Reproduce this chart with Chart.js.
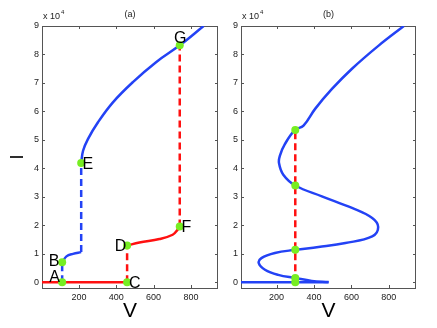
<!DOCTYPE html>
<html>
<head>
<meta charset="utf-8">
<script src="https://cdn.jsdelivr.net/npm/chart.js@4.4.1/dist/chart.umd.min.js"></script>
<style>
  html, body { margin: 0; padding: 0; background: #fff; }
  #chartA, #chartB { position: absolute; top: 0; }
  #chartA { left: 0; }
  #chartB { left: 222px; }
</style>
</head>
<body>
<canvas id="chartA" width="222" height="328"></canvas>
<canvas id="chartB" width="215" height="328"></canvas>
<script>
const xTicks = [200, 400, 600, 800];
const yTicks = [0, 10000, 20000, 30000, 40000, 50000, 60000, 70000, 80000, 90000];

// (a) hysteresis path
const aOffV = [2, 458];
const aOffI = [0, 0];
const aLowV = [110, 133, 168, 212];
const aLowI = [7000, 9100, 10000, 10600];
const aHighV = [212, 222, 248, 302, 382, 489, 613, 740, 868];
const aHighI = [41900, 46200, 50300, 56200, 63200, 70300, 77300, 83200, 90000];
const aMidV = [458, 524, 631, 702, 729, 740];
const aMidI = [12900, 14000, 15200, 16700, 18500, 19600];
const aBlueJumpV = [110, 212];
const aBlueJumpFrom = [0, 10600];
const aBlueJumpTo = [7000, 41900];
const aRedJumpV = [458, 740];
const aRedJumpFrom = [0, 19600];
const aRedJumpTo = [12900, 83200];
const aPointNames = ['A', 'B', 'C', 'D', 'E', 'F', 'G'];
const aPointV = [110, 110, 458, 458, 212, 740, 740];
const aPointI = [0, 7000, 0, 12900, 41900, 19600, 83200];

// (b) full S-shaped curve
const bCurveV = [880, 747, 603, 496, 406, 344, 299, 245, 218, 213, 236, 300, 442, 603, 711, 743, 711, 568, 424, 300, 191, 119, 105, 138, 209, 300, 388, 478];
const bCurveI = [90000, 83200, 75000, 67900, 60900, 55000, 53500, 48600, 44500, 41900, 37800, 34000, 30200, 26100, 22600, 19400, 16100, 13800, 12400, 11400, 10300, 8500, 6700, 4400, 2600, 1500, 500, 100];
const bFlatV = [10, 478];
const bFlatI = [0, 0];
const bMarkV = 300;
const bMarkI = [0, 1500, 11400, 34000, 53500];

const BLUE = '#2342f5';
const RED = '#ff1010';
const GREEN = '#77ee22';
const FONT = 'Liberation Sans, Arial, Helvetica, sans-serif';

function pts(V, I) {
  return V.map((v, k) => ({x: v, y: I[k]}));
}
function solid(color, V, I) {
  return {data: pts(V, I), showLine: true, borderColor: color, borderWidth: 2.5,
    pointRadius: 0, tension: 0.4, fill: false, order: 2};
}
function dashed(color, v, from, to) {
  return {data: [{x: v, y: from}, {x: v, y: to}], showLine: true, borderColor: color,
    borderWidth: 2.5, borderDash: [7, 4], pointRadius: 0, fill: false, order: 1};
}
function marks(V, I) {
  return {data: pts(V, I), showLine: false, pointRadius: 4, pointBackgroundColor: GREEN,
    pointBorderWidth: 0, order: 0};
}

// box, inward ticks, panel title, exponent and point letters
const decor = {
  id: 'decor',
  beforeDatasetsDraw(chart, args, opts) {
    const {ctx, chartArea: a, scales: {x, y}} = chart;
    ctx.save();
    ctx.strokeStyle = '#555';
    ctx.lineWidth = 1;
    ctx.beginPath();
    xTicks.forEach(v => {
      const px = Math.round(x.getPixelForValue(v)) + 0.5;
      ctx.moveTo(px, a.bottom); ctx.lineTo(px, a.bottom - 3);
      ctx.moveTo(px, a.top); ctx.lineTo(px, a.top + 3);
    });
    yTicks.forEach(v => {
      const py = Math.round(y.getPixelForValue(v)) + 0.5;
      ctx.moveTo(a.left, py); ctx.lineTo(a.left + 3, py);
      ctx.moveTo(a.right, py); ctx.lineTo(a.right - 3, py);
    });
    ctx.stroke();
    ctx.strokeRect(a.left + 0.5, a.top + 0.5, a.right - a.left - 1, a.bottom - a.top);
    ctx.fillStyle = '#222';
    ctx.font = '9px ' + FONT;
    ctx.textAlign = 'center';
    ctx.textBaseline = 'middle';
    ctx.fillText(opts.title, (a.left + a.right) / 2, 15);
    ctx.textAlign = 'left';
    ctx.fillText('x 10', a.left + 1, 17);
    const w = ctx.measureText('x 10').width;
    ctx.font = '6px ' + FONT;
    ctx.fillText('4', a.left + 2 + w, 12.5);
    ctx.restore();
  },
  afterDatasetsDraw(chart, args, opts) {
    if (!opts.names) return;
    const {ctx, scales: {x, y}} = chart;
    ctx.save();
    ctx.fillStyle = '#000';
    ctx.font = '16px ' + FONT;
    ctx.textAlign = 'center';
    ctx.textBaseline = 'alphabetic';
    opts.names.forEach((n, k) => {
      const px = x.getPixelForValue(opts.v[k]) + opts.dx[k];
      const py = y.getPixelForValue(opts.i[k]) + opts.dy[k];
      ctx.fillText(n, px, py + 5.7);
    });
    ctx.restore();
  }
};

function makeChart(id, xMin, axisWidth, padRight, yTitle, datasets, decorOpts) {
  return new Chart(document.getElementById(id), {
    type: 'scatter',
    data: {datasets: datasets},
    options: {
      responsive: false,
      animation: false,
      layout: {padding: {top: 26, right: padRight, bottom: 0, left: 0}},
      plugins: {legend: {display: false}, tooltip: {enabled: false}, decor: decorOpts},
      scales: {
        x: {
          type: 'linear', min: xMin, max: 945,
          grid: {display: false, drawTicks: false}, border: {display: false},
          afterBuildTicks: s => { s.ticks = xTicks.map(v => ({value: v})); },
          afterFit: s => { s.height = 40; },
          ticks: {padding: 4, color: '#222', maxRotation: 0, font: {family: FONT, size: 9}},
          title: {display: true, text: 'V', color: '#000', font: {family: FONT, size: 21},
            padding: {top: 0, bottom: 4}}
        },
        y: {
          type: 'linear', min: -2000, max: 90000,
          grid: {display: false, drawTicks: false}, border: {display: false},
          afterBuildTicks: s => { s.ticks = yTicks.map(v => ({value: v})); },
          afterFit: s => { s.width = axisWidth; },
          ticks: {padding: 3, color: '#222', font: {family: FONT, size: 9},
            callback: v => v / 10000},
          title: {display: yTitle, text: 'I', color: '#000', font: {family: FONT, size: 18},
            padding: {top: 7, bottom: 0}}
        }
      }
    },
    plugins: [decor]
  });
}

const aSets = [
  marks(aPointV, aPointI),
  solid(RED, aOffV, aOffI),
  solid(BLUE, aLowV, aLowI),
  solid(BLUE, aHighV, aHighI),
  solid(RED, aMidV, aMidI)
];
aBlueJumpV.forEach((v, k) => aSets.push(dashed(BLUE, v, aBlueJumpFrom[k], aBlueJumpTo[k])));
aRedJumpV.forEach((v, k) => aSets.push(dashed(RED, v, aRedJumpFrom[k], aRedJumpTo[k])));

makeChart('chartA', 2, 42, 4, true, aSets, {
  title: '(a)',
  names: aPointNames, v: aPointV, i: aPointI,
  dx: [-7.5, -8, 7.7, -6.7, 6.7, 6.7, 0.5],
  dy: [-6, -2.5, 0, 0, 0, 0, -8]
});

const bSets = [
  marks(bMarkI.map(() => bMarkV), bMarkI),
  solid(BLUE, bCurveV, bCurveI),
  solid(BLUE, bFlatV, bFlatI),
  dashed(RED, bMarkV, bMarkI[0], bMarkI[bMarkI.length - 1])
];

makeChart('chartB', 10, 19, 21, false, bSets, {title: '(b)'});
</script>
</body>
</html>
